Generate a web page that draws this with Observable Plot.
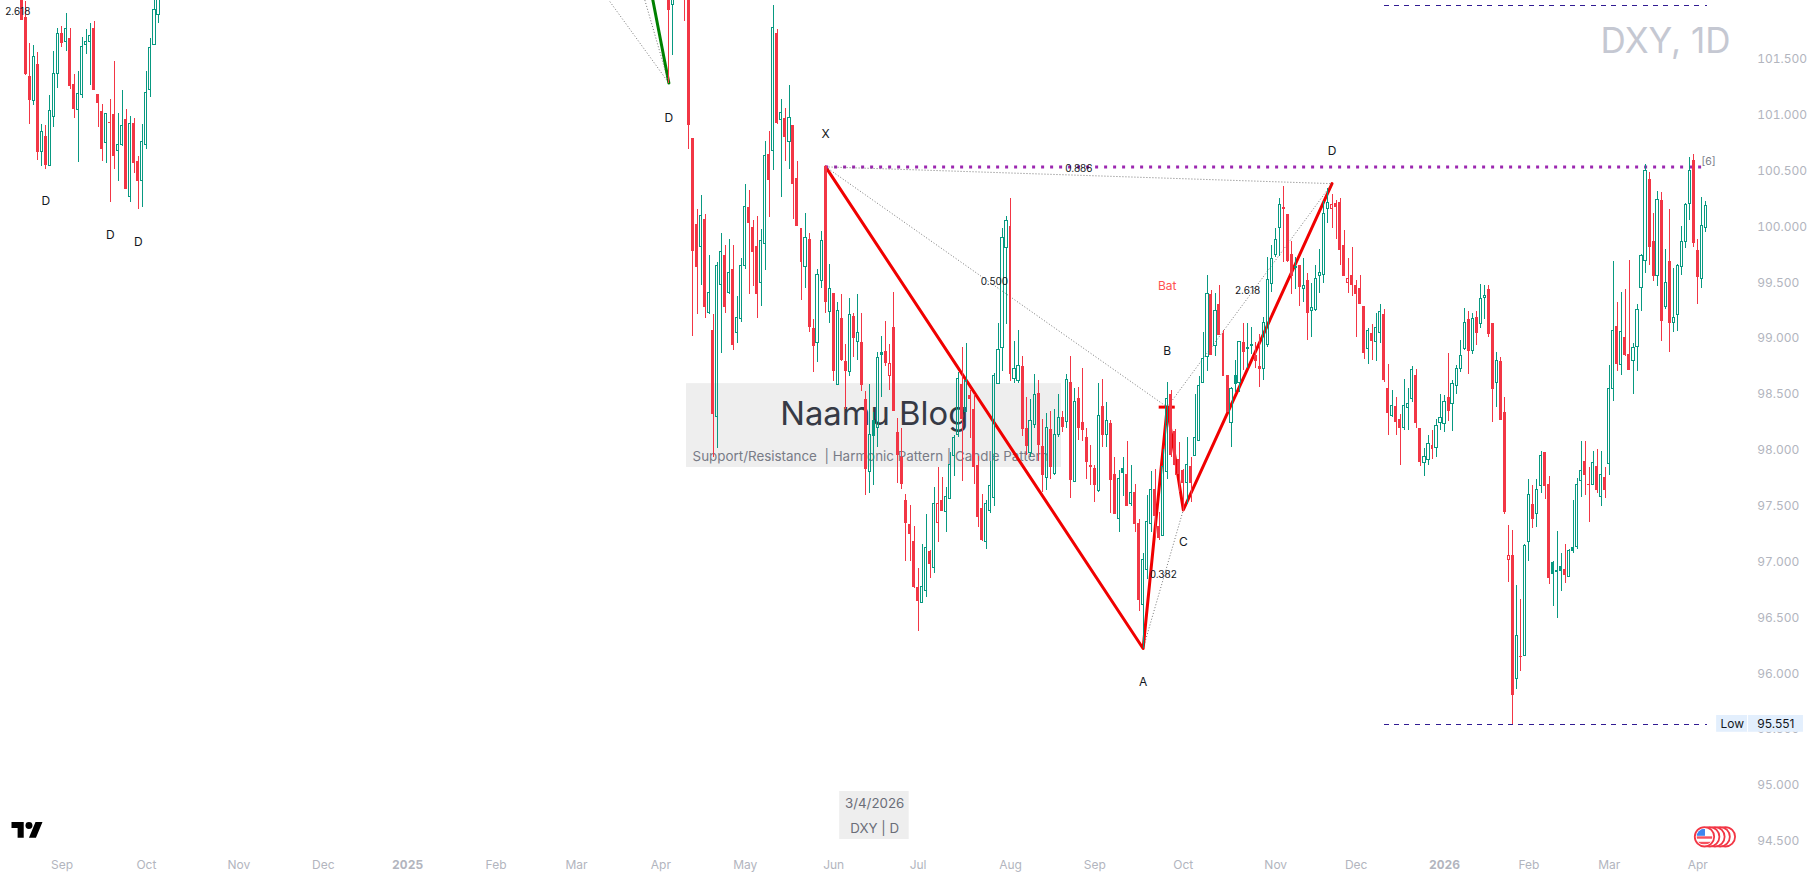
<!DOCTYPE html>
<html>
<head>
<meta charset="utf-8">
<style>
html,body{margin:0;padding:0;background:#fff;overflow:hidden}
svg{display:block}
</style>
<script src="https://cdn.jsdelivr.net/npm/d3@7"></script>
<script src="https://cdn.jsdelivr.net/npm/@observablehq/plot@0.6"></script>
</head>
<body>
<div id="chart"></div>
<script>
// ---- candles of the left block (bar index 0..34) ----
const leftHigh=[102.12,102.02,101.64,101.63,101.56,100.92,100.91,101.18,101.57,101.78,101.80,101.91,101.78,101.37,101.39,101.70,101.77,101.82,101.84,101.19,101.10,101.02,101.14,101.48,101.02,101.22,101.05,100.99,100.97,100.63,100.92,101.39,101.69,102.04,102.08];
const leftTop=[102.09,101.88,101.35,101.52,101.46,100.85,100.81,101.04,101.37,101.73,101.73,101.77,101.69,101.28,101.19,101.61,101.66,101.71,101.78,101.19,101.04,101.01,100.94,101.01,100.74,100.91,100.96,100.92,100.93,100.59,100.76,101.20,101.60,101.94,102.05];
const leftBottom=[101.85,101.37,101.13,101.13,100.67,100.67,100.55,100.55,100.99,101.37,101.64,101.66,101.26,101.05,101.05,101.18,101.63,101.66,101.22,101.11,100.70,100.75,100.93,100.63,100.68,100.74,100.34,100.27,100.57,100.41,100.41,100.74,101.23,101.63,101.90];
const leftLow=[101.85,101.36,100.92,101.09,100.60,100.54,100.52,100.55,100.89,101.24,101.61,101.57,101.23,100.97,100.58,101.15,101.55,101.27,101.22,100.89,100.59,100.57,100.22,100.52,100.41,100.72,100.34,100.22,100.48,100.16,100.18,100.70,101.16,101.63,101.82];
const leftStyle="rrrgrgrgggrgrrggggrrrgrrggrgrrggggg";

// ---- candles of the right block (bar index 161..419) ----
const rightHigh=[102.12,102.12,102.35,102.35,102.26,102.17,100.79,100.16,100.28,100.11,
99.75,99.22,99.68,99.94,99.84,99.89,99.84,99.38,99.72,100.38,
100.33,100.06,100.10,99.98,100.77,100.86,101.98,101.77,101.14,101.06,
101.27,100.91,100.59,99.99,100.12,99.94,99.17,99.62,99.96,100.54,
99.67,99.41,99.33,99.40,98.95,99.36,99.23,99.40,99.23,98.53,
98.59,98.34,98.88,99.02,99.16,98.95,99.42,98.29,98.20,97.61,
97.51,97.32,96.95,97.16,97.43,97.11,97.67,97.85,97.76,97.67,
97.98,98.14,98.70,98.92,98.96,98.54,98.50,97.95,97.61,97.55,
97.90,98.69,99.14,99.99,100.10,100.26,98.98,99.08,98.84,98.48,
98.46,98.68,98.63,98.28,98.33,98.35,98.37,98.50,98.35,98.68,
98.84,98.56,98.57,98.74,98.20,98.05,97.87,98.60,98.64,98.43,
98.27,97.94,97.82,97.94,98.08,97.87,97.70,97.38,97.08,97.60,
97.81,97.83,97.45,98.01,98.61,98.54,98.19,98.07,97.83,98.12,
97.94,98.50,98.66,99.06,99.57,99.43,99.41,99.48,99.08,98.67,
98.57,98.81,98.98,99.14,99.14,99.10,98.97,99.04,99.19,99.73,
99.84,99.99,100.26,100.36,100.11,99.87,99.73,99.66,99.72,99.59,
99.50,99.66,99.80,100.23,100.35,100.29,100.24,100.26,99.97,99.72,
99.82,99.52,99.57,99.29,99.09,99.13,99.23,99.31,99.26,98.77,
98.54,98.48,98.32,98.64,98.56,98.75,98.73,98.20,98.02,98.14,
98.18,98.28,98.50,98.49,98.87,98.63,98.76,98.99,99.27,99.25,
99.23,99.25,99.49,99.48,99.48,99.14,98.88,98.83,98.48,97.33,
97.29,96.79,96.67,97.16,97.74,97.69,97.74,97.99,97.98,97.77,
97.01,97.28,97.08,97.16,97.12,97.55,97.75,98.08,98.08,97.85,
97.99,98.01,97.99,97.85,98.76,99.69,99.33,99.42,99.44,99.70,
98.96,99.31,99.76,100.56,100.49,100.12,100.32,100.31,99.80,100.16,
99.63,99.67,100.01,100.21,100.62,100.65,99.89,100.27,100.23];
const rightTop=[102.08,102.08,102.30,102.30,102.21,102.12,100.79,100.02,100.10,100.07,
99.41,99.08,99.65,99.78,99.75,99.59,99.62,99.19,99.65,100.18,
100.18,100.00,99.83,99.88,100.64,100.65,101.78,101.73,101.02,100.97,
100.98,100.91,100.44,99.99,99.90,99.89,99.09,99.57,99.88,100.54,
99.45,99.41,99.25,99.18,98.80,99.21,99.20,99.05,98.97,98.46,
98.14,98.27,98.83,98.88,98.89,98.78,99.10,98.16,97.94,97.55,
97.34,97.19,96.78,96.78,97.13,97.10,97.52,97.52,97.55,97.59,
97.87,98.11,98.64,98.59,98.62,98.49,98.37,97.87,97.48,97.52,
97.68,98.67,98.90,99.90,100.06,100.01,98.73,98.76,98.75,98.20,
98.27,98.50,98.51,98.04,98.20,98.19,98.14,98.29,98.30,98.63,
98.61,98.44,98.47,98.25,98.12,97.87,97.84,98.31,98.40,98.27,
98.24,97.79,97.75,97.84,97.79,97.62,97.63,97.35,97.02,97.36,
97.65,97.65,97.32,97.85,98.46,98.50,98.17,97.92,97.82,97.87,
97.86,98.11,98.58,98.82,99.40,99.40,99.25,99.31,99.05,98.67,
98.55,98.67,98.97,98.97,98.92,98.95,98.85,98.75,99.14,99.53,
99.72,99.89,100.20,100.18,100.11,99.76,99.65,99.66,99.47,99.52,
99.28,99.54,99.59,100.12,100.22,100.20,100.21,100.22,99.84,99.54,
99.57,99.48,99.45,99.29,99.07,99.05,99.10,99.24,99.22,98.56,
98.40,98.40,98.28,98.40,98.42,98.72,98.67,98.20,97.94,98.06,
98.05,98.22,98.29,98.44,98.48,98.60,98.73,98.85,99.14,99.17,
99.18,99.19,99.36,99.38,99.44,99.14,98.80,98.80,98.34,97.06,
97.06,96.34,96.16,97.15,97.60,97.52,97.65,97.95,97.98,97.70,
97.00,96.92,96.96,96.94,97.10,97.13,97.69,97.82,97.90,97.70,
97.89,97.86,97.78,97.76,98.55,99.07,99.11,99.06,99.01,98.86,
98.92,99.26,99.74,100.50,100.43,99.87,100.24,100.24,99.50,99.69,
99.19,99.65,99.87,100.20,100.50,100.60,99.79,100.01,100.19];
const rightBottom=[101.94,101.99,102.21,102.17,102.08,100.91,99.78,99.64,99.82,99.28,
99.23,98.32,98.30,99.48,99.28,99.41,98.94,99.05,99.18,99.65,
100.03,99.77,99.40,99.50,99.85,100.42,100.68,100.93,100.96,100.80,
100.76,100.38,100.01,99.68,99.64,99.10,98.93,98.96,99.52,99.33,
99.24,98.71,98.59,98.81,98.71,98.70,99.00,98.97,98.58,97.83,
97.81,98.13,98.20,98.85,98.78,98.67,98.35,97.96,97.70,97.35,
97.25,96.78,96.65,96.64,96.74,96.98,96.95,97.35,97.46,97.45,
97.57,97.95,98.14,98.28,98.35,98.46,97.85,97.40,97.20,97.18,
97.46,97.58,98.60,98.92,99.81,98.68,98.64,98.62,98.19,98.04,
97.98,98.23,98.05,97.78,97.76,97.85,97.79,98.14,98.21,98.26,
97.73,97.72,98.20,98.18,97.89,97.85,97.69,97.64,98.14,98.14,
97.73,97.43,97.39,97.80,97.50,97.52,97.34,96.66,96.62,96.93,
97.34,97.41,97.21,97.24,97.81,97.96,97.87,97.79,97.71,97.71,
97.71,97.95,98.09,98.61,98.84,98.85,98.94,99.03,98.66,98.34,
98.25,98.59,98.61,98.88,98.91,98.94,98.80,98.73,98.73,98.95,
99.49,99.75,99.99,100.16,99.69,99.56,99.63,99.46,99.45,99.23,
99.25,99.26,99.56,99.57,100.16,100.16,100.18,99.79,99.56,99.50,
99.48,99.40,99.31,98.87,98.91,98.98,98.97,99.05,98.63,98.33,
98.31,98.25,98.20,98.20,98.38,98.46,98.24,97.89,97.89,97.92,
98.01,98.02,98.25,98.24,98.35,98.42,98.58,98.73,98.91,98.89,
98.89,99.05,99.13,99.37,99.04,98.55,98.61,98.27,97.45,97.02,
95.81,95.96,96.15,96.16,97.18,97.38,97.43,97.68,97.68,96.86,
96.89,96.91,96.92,96.88,96.87,97.10,97.14,97.73,97.78,97.69,
97.69,97.64,97.59,97.64,97.88,98.55,98.77,98.77,98.85,98.72,
98.80,98.93,99.46,99.70,99.82,99.56,99.56,99.16,99.29,99.14,
99.14,99.21,99.64,99.87,100.21,99.85,99.55,99.54,99.99];
const rightLow=[101.29,101.54,102.17,102.12,101.84,100.70,99.02,99.22,99.48,99.18,
99.22,97.94,98.02,98.87,99.23,99.40,98.90,98.96,99.15,99.62,
99.40,99.47,99.18,99.29,99.61,100.09,100.51,100.92,100.27,100.59,
100.52,100.07,100.01,99.34,99.45,99.06,98.70,98.79,99.45,99.23,
99.14,98.62,98.58,98.80,98.37,98.66,98.83,98.81,98.53,97.60,
97.62,97.69,98.03,98.48,98.75,98.54,98.35,97.71,97.65,97.01,
97.01,96.77,96.38,96.63,96.69,96.86,96.90,97.18,97.46,97.27,
97.56,97.77,98.12,97.72,98.34,98.11,97.70,97.31,97.19,97.12,
97.44,97.50,98.60,98.71,99.13,98.62,98.60,98.60,98.13,97.96,
97.94,98.20,97.90,97.63,97.64,97.74,97.78,98.12,98.16,98.20,
97.57,97.72,98.09,98.08,97.74,97.69,97.54,97.63,98.03,98.03,
97.44,97.43,97.27,97.59,97.50,97.50,97.27,96.56,96.23,96.85,
97.27,97.22,97.20,97.23,97.74,97.94,97.78,97.63,97.46,97.52,
97.54,97.95,98.09,98.61,98.71,98.85,98.84,99.03,98.66,98.34,
98.03,98.52,98.52,98.72,98.74,98.86,98.74,98.57,98.63,98.92,
99.42,99.73,99.74,99.68,99.68,99.40,99.44,99.29,99.33,98.99,
99.01,99.25,99.41,99.50,100.03,99.99,99.89,99.66,99.56,99.41,
99.38,99.01,99.31,98.82,98.77,98.81,98.80,98.96,98.61,98.14,
98.30,98.14,97.87,98.18,98.18,98.43,98.20,97.86,97.77,97.87,
97.92,97.94,98.18,98.16,98.26,98.17,98.50,98.70,98.90,98.68,
98.86,98.94,99.09,99.17,99.01,98.25,98.39,98.27,97.43,96.82,
95.55,95.86,96.02,96.16,97.01,97.30,97.31,97.62,97.56,96.80,
96.61,96.50,96.74,96.81,96.87,97.08,97.12,97.58,97.60,97.36,
97.69,97.62,97.50,97.57,97.78,98.44,98.71,98.67,98.84,98.72,
98.50,98.71,99.25,99.59,99.66,99.51,99.47,98.98,99.26,98.88,
99.06,99.07,99.57,99.81,100.06,99.82,99.31,99.45,99.95];
// r filled red, g hollow green, h hollow red, f filled green
const rightStyle="rgrrrrrrgr"+"grggrgrggg"+"rrrggrgrgr"+"grrrgrrggr"+"grgrrgrgrr"+"gfgfrhrrrr"+"rrrggrghrg"+"gggrgrrrrg"+"gggggrggrr"+"ggrrgrggrg"+"rgrrrrrgrg"+"rrgfrgrrgg"+"grrggrrrrg"+"rggggrgrrr"+"gfgrggrrgg"+"gggrrrfrgr"+"ggggghrrrh"+"rrrrgrggrr"+"grrgggrrgg"+"rgggrggggr"+"grggrrgrrh"+"rgrggrggrr"+"fgfrgfggrr"+"grgrggrgrr"+"ggggrrgrgr"+"gggggrrgg";
const rightStart=161;

// ---- axis ticks ----
const priceTicks=[94.5,95,95.5,96,96.5,97,97.5,98,98.5,99,99.5,100,100.5,101,101.5];
const monthTicks=[10,31,54,75,118,138,159,180,202,223,246,267,289,312,332,375,395,417];
const monthNames=["Sep","Oct","Nov","Dec","Feb","Mar","Apr","May","Jun","Jul","Aug","Sep","Oct","Nov","Dec","Feb","Mar","Apr"];
const yearTicks=[96,354];
const yearNames=["2025","2026"];

// ---- harmonic pattern drawing (bar index, price) ----
const patternBars=[200,279,285,289,326];
const patternPrices=[100.54,96.23,98.39,97.47,100.39];
const greenLegBars=[153,161];
const greenLegPrices=[102.78,101.29];
const dottedLegs=[[200,100.54,285,98.39],[200,100.54,326,100.39],[279,96.23,289,97.47],[285,98.39,326,100.39],[131,102.78,161,101.29],[149,102.78,161,101.29]];
const levelPurple=100.54, levelLow=95.551, levelHigh=101.98;

const letterLabels=[["D",6,100.23],["D",22,99.93],["D",29,99.87],["D",161,100.98],["X",200,100.83],["B",285,98.89],["A",279,95.93],["C",289,97.18],["D",326,100.68]];
const ratioLabels=[["2.618",-1,101.93],["0.500",242,99.51],["0.886",263,100.52],["2.618",305,99.43],["0.382",284,96.89]];

const FONT="Inter, sans-serif", RED="#f23645", GREEN="#089981";

function collect(start,hi,top,bot,lo,st){
  return hi.map((h,k)=>({i:start+k,high:h,top:top[k],bottom:bot[k],low:lo[k],style:st[k]}));
}
const bars=[...collect(0,leftHigh,leftTop,leftBottom,leftLow,leftStyle),
            ...collect(rightStart,rightHigh,rightTop,rightBottom,rightLow,rightStyle)];
const tone=s=>(s==="r"||s==="h")?RED:GREEN;
const candleMarks=(color)=>{
  const set=bars.filter(b=>tone(b.style)===color);
  return [
    Plot.ruleX(set,{x:"i",y1:"high",y2:"top",stroke:color,strokeWidth:1,shapeRendering:"crispEdges"}),
    Plot.ruleX(set,{x:"i",y1:"bottom",y2:"low",stroke:color,strokeWidth:1,shapeRendering:"crispEdges"}),
    Plot.rect(set.filter(b=>b.style==="r"||b.style==="f"),{x1:b=>b.i-0.37,x2:b=>b.i+0.37,y1:"top",y2:"bottom",fill:color,shapeRendering:"crispEdges"}),
    Plot.rect(set.filter(b=>b.style==="g"||b.style==="h"),{x1:b=>b.i-0.27,x2:b=>b.i+0.27,y1:"top",y2:"bottom",fill:"none",stroke:color,strokeWidth:1,shapeRendering:"crispEdges"})
  ];
};
const pattern=patternBars.map((b,k)=>({b,p:patternPrices[k]}));
const greenLeg=greenLegBars.map((b,k)=>({b,p:greenLegPrices[k]}));

// TradingView logo and the event-flag badge are small pictograms, not data
const logoMark=()=>{
  const g=d3.create("svg:g").attr("transform","translate(11.5,818.5) scale(0.873)").attr("fill","#000");
  g.append("path").attr("d","M14 22H7V11H0V4h14v18zM28 22h-8l7.5-18h8L28 22z");
  g.append("circle").attr("cx",20).attr("cy",8).attr("r",4);
  return g.node();
};
const flagBars=[424,422.7,421.4,420.1,418.8];
const flagPrice=94.54;
const flagMark=(index,{x,y})=>{
  const g=d3.create("svg:g");
  const cy=y(flagPrice);
  flagBars.forEach(b=>g.append("circle").attr("cx",x(b)).attr("cy",cy).attr("r",9.7).attr("fill","#fff").attr("stroke",RED).attr("stroke-width",1.8));
  const cx=x(flagBars[flagBars.length-1]);
  g.append("clipPath").attr("id","flagclip").append("circle").attr("cx",cx).attr("cy",cy).attr("r",8);
  const f=g.append("g").attr("clip-path","url(#flagclip)");
  [-0.5,5].forEach(dy=>f.append("rect").attr("x",cx-8).attr("y",cy+dy).attr("width",16).attr("height",2.4).attr("fill","#f7525f"));
  f.append("rect").attr("x",cx-8).attr("y",cy-8).attr("width",8.5).attr("height",7).attr("fill","#3d85f0");
  return g.node();
};

const chart=Plot.plot({
  width:1815,height:879,
  marginLeft:0,marginRight:18,marginTop:0,marginBottom:29,
  style:{fontFamily:FONT,background:"#fff"},
  x:{domain:[-5.3,441.82],axis:null},
  y:{domain:[94.422,102.029],axis:null},
  marks:[
    // watermark panel under the candles
    Plot.rect([0],{x1:165.4,x2:258.7,y1:98.60,y2:97.85,fill:"#eeeeee"}),
    Plot.text(["Naamu Blog"],{x:212.1,y:98.32,fontSize:32.8,fill:"#363a45",textAnchor:"middle"}),
    Plot.text(["Support/Resistance  | Harmonic Pattern | Candle Pattern"],{x:166.9,y:97.95,fontSize:13.4,fill:"#787b86",textAnchor:"start"}),
    Plot.rect([0],{x1:203.5,x2:220.8,y1:94.95,y2:94.52,fill:"#eeeeee"}),
    Plot.text(["3/4/2026"],{x:212.2,y:94.84,fontSize:13.3,fill:"#6a6d78"}),
    Plot.text(["DXY | D"],{x:212.2,y:94.615,fontSize:13.3,fill:"#6a6d78"}),
    Plot.text(["DXY, 1D"],{frameAnchor:"top-right",dx:-67,dy:28,lineAnchor:"top",fontSize:35,fill:"#c5c8d2",textAnchor:"end"}),
    // axes
    Plot.axisY(priceTicks,{anchor:"right",tickSize:0,tickPadding:0,textAnchor:"start",dx:-40.3,dy:-0.4,tickFormat:d=>d.toFixed(3),fill:"#b2b5be",fontSize:12,label:null}),
    Plot.axisX(monthTicks,{anchor:"bottom",tickSize:0,tickPadding:10,tickFormat:d=>monthNames[monthTicks.indexOf(d)],fill:"#b2b5be",fontSize:12,label:null}),
    Plot.axisX(yearTicks,{anchor:"bottom",tickSize:0,tickPadding:10,tickFormat:d=>yearNames[yearTicks.indexOf(d)],fill:"#b2b5be",fontSize:12,fontWeight:"bold",label:null}),
    // harmonic pattern
    Plot.line(pattern,{x:"b",y:"p",stroke:"#f00000",strokeWidth:3}),
    Plot.line(greenLeg,{x:"b",y:"p",stroke:"#008000",strokeWidth:3}),
    Plot.ruleY([levelPurple],{x1:200,x2:418,stroke:"#9c27b0",strokeWidth:3,strokeDasharray:"3,6"}),
    Plot.link(dottedLegs,{x1:d=>d[0],y1:d=>d[1],x2:d=>d[2],y2:d=>d[3],stroke:"#555",strokeWidth:1,strokeDasharray:"1,2",strokeOpacity:0.8}),
    Plot.ruleY([98.39],{x1:283,x2:287,stroke:"#f00000",strokeWidth:3}),
    // levels
    Plot.ruleY([levelLow],{x1:339,x2:419.4,stroke:"#311b92",strokeWidth:1,strokeDasharray:"5,5.35",shapeRendering:"crispEdges"}),
    Plot.ruleY([levelHigh],{x1:339,x2:419.4,stroke:"#311b92",strokeWidth:1,strokeDasharray:"5,5.35",shapeRendering:"crispEdges"}),
    // candles
    ...candleMarks(GREEN),
    ...candleMarks(RED),
    // labels
    Plot.text(letterLabels,{x:d=>d[1],y:d=>d[2],text:d=>d[0],fontSize:12,fill:"#131722"}),
    Plot.text(ratioLabels,{x:d=>d[1],y:d=>d[2],text:d=>d[0],fontSize:10,fill:"#131722"}),
    Plot.text(["Bat"],{x:285,y:99.47,fontSize:12,fill:"#ff5252"}),
    Plot.text(["[6]"],{x:419.7,y:100.585,fontSize:10.5,fill:"#787b86"}),
    // low label
    Plot.rect([0],{x1:421.7,x2:443.3,y1:95.63,y2:95.48,fill:"#e3effd"}),
    Plot.ruleX([429.4],{y1:95.63,y2:95.48,stroke:"#fff",strokeWidth:1}),
    Plot.text(["Low"],{x:425.6,y:levelLow,fontSize:12,fill:"#131722"}),
    Plot.text(["95.551"],{x:431.8,y:levelLow,fontSize:12,fill:"#131722",textAnchor:"start"}),
    logoMark,
    flagMark
  ]
});
document.getElementById("chart").append(chart);
</script>
</body>
</html>
